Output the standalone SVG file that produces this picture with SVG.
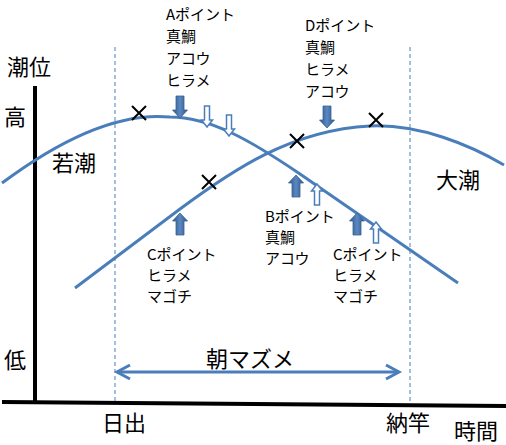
<svg xmlns="http://www.w3.org/2000/svg" width="506" height="445" viewBox="0 0 506 445">
<style>
.t{font-family:"Noto Sans CJK JP","Liberation Sans",sans-serif;fill:#000}
.big{font-size:22px}
.sm{font-size:15px}
.curve{fill:none;stroke:#4a7ebb;stroke-width:3}
.dash{fill:none;stroke:#4a7ebb;stroke-width:1;stroke-dasharray:4,3}
.axis{fill:none;stroke:#000;stroke-width:4}
.x{stroke:#000;stroke-width:2}
.solid{fill:url(#g);stroke:#3a6293;stroke-width:0.8}
.hollow{fill:#fff;stroke:#4a7ebb;stroke-width:1.5}
</style>
<defs>
<linearGradient id="g" x1="0" x2="1" y1="0" y2="0">
<stop offset="0" stop-color="#2e5586"/>
<stop offset="0.5" stop-color="#5a88c2"/>
<stop offset="1" stop-color="#2e5586"/>
</linearGradient>
<path id="sa" d="M-4,-22 H4 V-8 H7.5 L0,0 L-7.5,-8 H-4 Z"/>
<path id="ha" d="M-2.5,-21 H2.5 V-7 H5.5 L0,0 L-5.5,-7 H-2.5 Z"/>
</defs>
<rect width="506" height="445" fill="#fff"/>
<g id="axes">
<line class="axis" x1="35" y1="86" x2="35" y2="402"/>
<line class="axis" x1="2" y1="402" x2="506" y2="406"/>
<line class="dash" x1="115" y1="47" x2="115" y2="403"/>
<line class="dash" x1="410" y1="47" x2="410" y2="404"/>
</g>
<g id="connectors">
<path id="wakashio" class="curve" d="M2,183 Q100,110 170,117 C210,117 250,140 300,174 L458,283"/>
<path id="ooshio" class="curve" d="M75,288 L180,209 C230,172 290,130 370,126 C420,124 470,145 504,165"/>
<g id="asamazume-arrow" fill="none" stroke="#4a7ebb" stroke-width="3">
<line x1="117" y1="372" x2="399" y2="372"/>
<polyline points="130,365 117,372 130,379"/>
<polyline points="386,365 399,372 386,379"/>
</g>
</g>
<g id="marks">
<path class="x" d="M132,106 L146,120 M146,106 L132,120"/>
<path class="x" d="M202,175 L216,189 M216,175 L202,189"/>
<path class="x" d="M290,134 L304,148 M304,134 L290,148"/>
<path class="x" d="M369,113 L383,127 M383,113 L369,127"/>
</g>
<g id="arrows">
<use href="#sa" class="solid" transform="translate(180,118)"/>
<use href="#ha" class="hollow" transform="translate(207,127)"/>
<use href="#ha" class="hollow" transform="translate(229,136)"/>
<use href="#sa" class="solid" transform="translate(327,128)"/>
<use href="#sa" class="solid" transform="translate(296,175) scale(1,-1)"/>
<use href="#ha" class="hollow" transform="translate(317,184) scale(1,-1)"/>
<use href="#sa" class="solid" transform="translate(180,213) scale(1,-1)"/>
<use href="#sa" class="solid" transform="translate(357,213) scale(1,-1)"/>
<use href="#ha" class="hollow" transform="translate(376,222) scale(1,-1)"/>
</g>
<g id="axis-labels">
<text class="t big" x="7" y="75">潮位</text>
<text class="t big" x="4" y="125">高</text>
<text class="t big" x="4" y="368">低</text>
<text class="t big" x="102" y="431">日出</text>
<text class="t big" x="386" y="431">納竿</text>
<text class="t big" x="454" y="439">時間</text>
</g>
<g id="tide-labels">
<text class="t big" x="52" y="171">若潮</text>
<text class="t big" x="436" y="188">大潮</text>
<text class="t big" x="206" y="367">朝マズメ</text>
</g>
<g id="point-a">
<text class="t sm" x="166" y="20">Aポイント</text>
<text class="t sm" x="166" y="42">真鯛</text>
<text class="t sm" x="166" y="64">アコウ</text>
<text class="t sm" x="166" y="86">ヒラメ</text>
</g>
<g id="point-d">
<text class="t sm" x="305" y="31">Dポイント</text>
<text class="t sm" x="305" y="53">真鯛</text>
<text class="t sm" x="305" y="75">ヒラメ</text>
<text class="t sm" x="305" y="97">アコウ</text>
</g>
<g id="point-b">
<text class="t sm" x="265" y="222">Bポイント</text>
<text class="t sm" x="265" y="243">真鯛</text>
<text class="t sm" x="265" y="264">アコウ</text>
</g>
<g id="point-c-left">
<text class="t sm" x="147" y="260">Cポイント</text>
<text class="t sm" x="147" y="281">ヒラメ</text>
<text class="t sm" x="147" y="302">マゴチ</text>
</g>
<g id="point-c-right">
<text class="t sm" x="333" y="260">Cポイント</text>
<text class="t sm" x="333" y="281">ヒラメ</text>
<text class="t sm" x="333" y="302">マゴチ</text>
</g>
</svg>
